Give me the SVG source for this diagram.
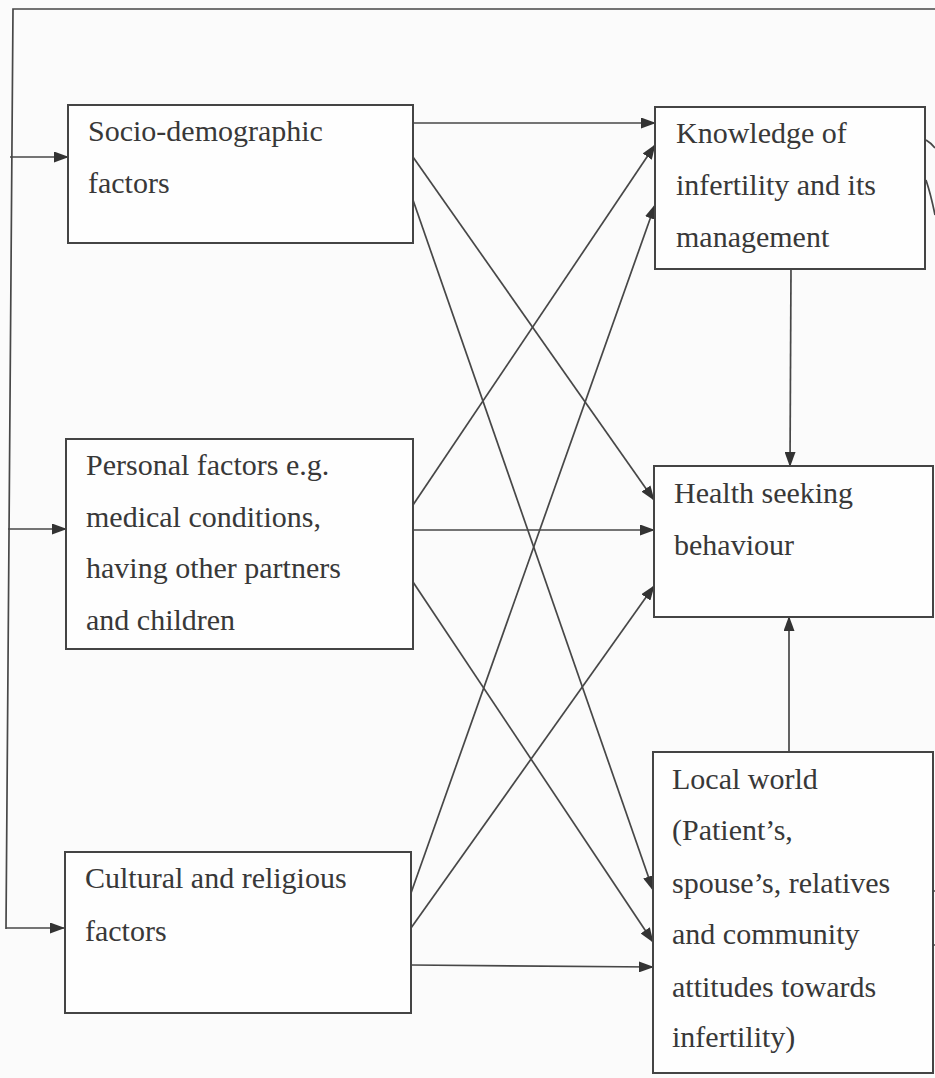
<svg xmlns="http://www.w3.org/2000/svg" width="935" height="1078" viewBox="0 0 935 1078">
<defs>
<marker id="ah" viewBox="0 0 15 11" refX="14" refY="5.5" markerWidth="15" markerHeight="11" markerUnits="userSpaceOnUse" orient="auto">
<path d="M0,0 L15,5.5 L0,11 Z" fill="#333333"/>
</marker>
</defs>
<style>
.box{fill:#fefefe;stroke:#444444;stroke-width:2}
.t{font-family:"Liberation Serif","Times New Roman",serif;font-size:30px;fill:#383838}
.c{stroke:#474747;stroke-width:1.7;fill:none}
.ca{stroke:#474747;stroke-width:1.7;fill:none;marker-end:url(#ah)}
</style>
<rect width="935" height="1078" fill="#fbfbfb"/>
<g id="connectors">
<polyline class="c" points="935,9 13,9 6,929"/>
<line class="ca" x1="10" y1="157" x2="68" y2="157"/>
<line class="ca" x1="8" y1="529" x2="66" y2="529"/>
<line class="ca" x1="6" y1="928" x2="64" y2="928"/>
<line class="ca" x1="413" y1="123" x2="655" y2="123"/>
<line class="ca" x1="413" y1="157" x2="654" y2="500"/>
<line class="ca" x1="413" y1="200" x2="653" y2="890"/>
<line class="ca" x1="413" y1="505" x2="655" y2="145"/>
<line class="ca" x1="413" y1="530" x2="654" y2="530"/>
<line class="ca" x1="413" y1="582" x2="653" y2="942"/>
<line class="ca" x1="411" y1="893" x2="655" y2="205"/>
<line class="ca" x1="411" y1="928" x2="654" y2="586"/>
<line class="ca" x1="411" y1="965" x2="653" y2="967"/>
<line class="ca" x1="791" y1="269" x2="790" y2="466"/>
<line class="ca" x1="789" y1="752" x2="789" y2="617"/>
<path class="c" d="M926,140 Q931,143 935,148"/>
<path class="c" d="M926,180 Q931,195 935,215"/>
<line class="c" x1="933" y1="891" x2="935" y2="891"/>
<line class="c" x1="933" y1="945" x2="935" y2="945"/>
</g>
<g id="socio">
<rect class="box" x="68" y="105" width="345" height="138"/>
<text class="t" x="88" y="141">Socio-demographic</text>
<text class="t" x="88" y="193">factors</text>
</g>
<g id="personal">
<rect class="box" x="66" y="439" width="347" height="210"/>
<text class="t" x="86" y="475">Personal factors e.g.</text>
<text class="t" x="86" y="527">medical conditions,</text>
<text class="t" x="86" y="578">having other partners</text>
<text class="t" x="86" y="630">and children</text>
</g>
<g id="cultural">
<rect class="box" x="65" y="852" width="346" height="161"/>
<text class="t" x="85" y="888">Cultural and religious</text>
<text class="t" x="85" y="941">factors</text>
</g>
<g id="knowledge">
<rect class="box" x="655" y="107" width="270" height="162"/>
<text class="t" x="676" y="143">Knowledge of</text>
<text class="t" x="676" y="195">infertility and its</text>
<text class="t" x="676" y="247">management</text>
</g>
<g id="health">
<rect class="box" x="654" y="466" width="279" height="151"/>
<text class="t" x="674" y="503">Health seeking</text>
<text class="t" x="674" y="555">behaviour</text>
</g>
<g id="local">
<rect class="box" x="653" y="752" width="280" height="321"/>
<text class="t" x="672" y="789">Local world</text>
<text class="t" x="672" y="840">(Patient’s,</text>
<text class="t" x="672" y="893">spouse’s, relatives</text>
<text class="t" x="672" y="944">and community</text>
<text class="t" x="672" y="997">attitudes towards</text>
<text class="t" x="672" y="1047">infertility)</text>
</g>
</svg>
